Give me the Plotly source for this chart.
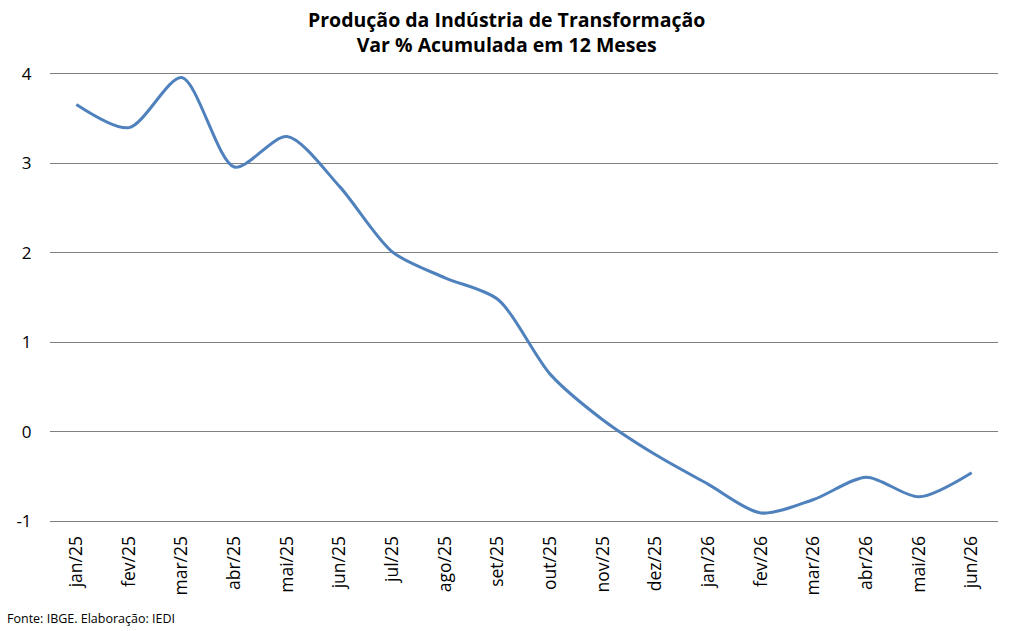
import plotly.graph_objects as go

months = ["jan/25", "fev/25", "mar/25", "abr/25", "mai/25", "jun/25", "jul/25", "ago/25", "set/25",
          "out/25", "nov/25", "dez/25", "jan/26", "fev/26", "mar/26", "abr/26", "mai/26", "jun/26"]
values = [3.66, 3.40, 3.96, 2.96, 3.30, 2.74, 2.01, 1.72, 1.48,
          0.64, 0.13, -0.26, -0.59, -0.91, -0.76, -0.51, -0.73, -0.46]
y_ticks = [-1, 0, 1, 2, 3, 4]

FONT = "Open Sans"
GRID = "#808080"

fig = go.Figure()
fig.add_trace(go.Scatter(
    x=months, y=values, mode="lines",
    line=dict(color="#4F81BD", width=3, shape="spline", smoothing=0.8),
    showlegend=False, hoverinfo="x+y",
))

fig.update_layout(
    width=1013, height=631,
    margin=dict(l=50, r=15, t=74, b=110),
    paper_bgcolor="white", plot_bgcolor="white",
    font=dict(family=FONT, color="#000000"),
    xaxis=dict(
        type="category", range=[-0.5, len(months) - 0.5],
        tickangle=-90, tickfont=dict(family=FONT, size=17.5),
        showgrid=False, showline=True, mirror=True, linecolor=GRID, linewidth=1,
        ticks="outside", ticklen=7, tickcolor="white", zeroline=False,
    ),
    yaxis=dict(
        range=[-1, 4], tickvals=y_ticks, ticktext=[str(v) for v in y_ticks],
        tickfont=dict(family=FONT, size=17),
        showgrid=True, gridcolor=GRID, gridwidth=1,
        zeroline=False, showline=False, ticks="outside", ticklen=14, tickcolor="white",
    ),
    annotations=[
        dict(
            text="<b>Produção da Indústria de Transformação<br>Var % Acumulada em 12 Meses</b>",
            xref="paper", yref="paper", x=(506 - 50) / 948, y=(521 - 32) / 447,
            xanchor="center", yanchor="middle", showarrow=False,
            font=dict(family=FONT, size=19.5, color="#000000"),
        ),
        dict(
            text="Fonte: IBGE. Elaboração: IEDI", xref="paper", yref="paper",
            x=-45 / 948, y=-(618 - 521) / 447, xanchor="left", yanchor="middle", showarrow=False,
            font=dict(family=FONT, size=12.5, color="#000000"),
        ),
    ],
)

fig.write_html("out.html", config={"displayModeBar": False},
               post_script="document.body.style.margin='0';")
